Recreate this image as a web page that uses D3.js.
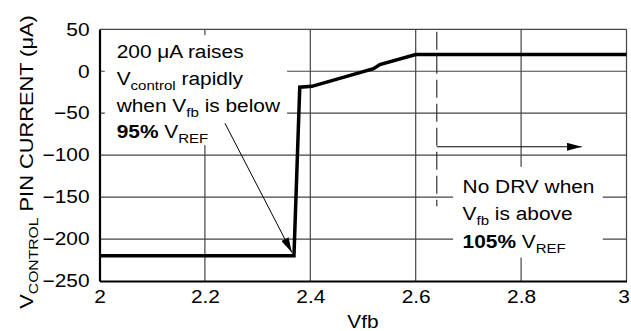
<!DOCTYPE html>
<html>
<head>
<meta charset="utf-8">
<script src="https://cdn.jsdelivr.net/npm/d3@7"></script>
<style>
  body { margin: 0; background: #fff; }
  svg { display: block; font-family: "Liberation Sans", Arial, sans-serif; }
</style>
</head>
<body>
<script>
// curve (Vfb in V, current in uA)
var vfb     = [2, 2.369, 2.380, 2.403, 2.52, 2.532, 2.6, 3];
var current = [-220, -220, -19, -18, 3, 8, 20, 20];

var xTicks = [2, 2.2, 2.4, 2.6, 2.8, 3];
var yTicks = [-250, -200, -150, -100, -50, 0, 50];
var xGrid = [2.2, 2.4, 2.6, 2.8, 3];
var yGrid = [-200, -150, -100, -50, 0, 50];

// 105% Vref marker + arrows (data coords)
var limitV = 2.64;
var limitSpan = [47, -161];
var arrowLow = [[2.238, -62], [2.365, -216]];
var arrowHigh = [[2.64, -90], [2.915, -90]];

// white boxes behind the notes (data coords)
var noteBoxes = [
  {x0: 2.01, x1: 2.356, y0: 43, y1: -88},
  {x0: 2.671, x1: 2.955, y0: -114, y1: -222}
];

var W = 631, H = 331;
var marges = {top: 29.3, right: 4.5, bottom: 50, left: 99.5};
var SX = 1.16; // text in the original is a bit wide
var FS = 18;

var svg = d3.select("body").append("svg")
  .attr("width", W)
  .attr("height", H);

var x = d3.scaleLinear().domain([2, 3]).range([marges.left, W - marges.right]);
var y = d3.scaleLinear().domain([-250, 50]).range([H - marges.bottom, marges.top]);

var defs = svg.append("defs");
defs.append("marker")
  .attr("id", "head")
  .attr("markerUnits", "userSpaceOnUse")
  .attr("viewBox", "0 -4 15 8")
  .attr("refX", 15).attr("refY", 0)
  .attr("markerWidth", 15).attr("markerHeight", 8)
  .attr("orient", "auto")
  .append("path")
  .attr("d", "M0,-4L15,0L0,4Z")
  .attr("fill", "#000");

// grid
svg.append("g").selectAll("line").data(xGrid).enter().append("line")
  .attr("x1", d => x(d)).attr("x2", d => x(d))
  .attr("y1", y(-250)).attr("y2", y(50))
  .attr("stroke", "#444").attr("stroke-width", 1.2);
svg.append("g").selectAll("line").data(yGrid).enter().append("line")
  .attr("x1", x(2)).attr("x2", x(3))
  .attr("y1", d => y(d)).attr("y2", d => y(d))
  .attr("stroke", "#444").attr("stroke-width", 1.2);

svg.append("g").selectAll("rect").data(noteBoxes).enter().append("rect")
  .attr("x", d => x(d.x0)).attr("y", d => y(d.y0))
  .attr("width", d => x(d.x1) - x(d.x0))
  .attr("height", d => y(d.y1) - y(d.y0))
  .attr("fill", "#fff");

// curve
var pts = vfb.map((v, i) => [v, current[i]]);
svg.append("path")
  .datum(pts)
  .attr("d", d3.line().x(d => x(d[0])).y(d => y(d[1])))
  .attr("fill", "none")
  .attr("stroke", "#000")
  .attr("stroke-width", 3.5)
  .attr("stroke-linejoin", "miter");

// dashed limit + arrows
svg.append("line")
  .attr("x1", x(limitV)).attr("x2", x(limitV))
  .attr("y1", y(limitSpan[0])).attr("y2", y(limitSpan[1]))
  .attr("stroke", "#333").attr("stroke-width", 1.2)
  .attr("stroke-dasharray", "18,6");

[arrowLow, arrowHigh].forEach(function(a) {
  svg.append("line")
    .attr("x1", x(a[0][0])).attr("y1", y(a[0][1]))
    .attr("x2", x(a[1][0])).attr("y2", y(a[1][1]))
    .attr("stroke", "#000").attr("stroke-width", 1)
    .attr("marker-end", "url(#head)");
});

// axes
var axeX = svg.append("g")
  .attr("transform", "translate(0," + (H - marges.bottom) + ")")
  .call(d3.axisBottom(x).tickValues(xTicks).tickSize(0).tickPadding(9.5).tickFormat(d => d));
var axeY = svg.append("g")
  .attr("transform", "translate(" + marges.left + ",0)")
  .call(d3.axisLeft(y).tickValues(yTicks).tickSize(0).tickPadding(10 / SX));

[axeX, axeY].forEach(function(a) {
  a.select(".domain").attr("stroke", "#000").attr("stroke-width", 2.2);
  a.selectAll("text")
    .attr("font-size", FS)
    .attr("font-family", "Liberation Sans, Arial, sans-serif")
    .attr("fill", "#000")
    .attr("transform", "scale(" + SX + ",1)");
});
// keep the "3" inside the window
axeX.selectAll(".tick text").filter(d => d === 3).attr("x", -2.5);

// text helper: parts = [text, "sub"/"b"/null]
function ligne(g, px, py, parts, anchor, fs) {
  fs = fs || FS;
  var t = g.append("text")
    .attr("transform", "translate(" + px + "," + py + ") scale(" + SX + ",1)")
    .attr("font-size", fs)
    .attr("text-anchor", anchor || "start")
    .attr("fill", "#000");
  var low = false;
  parts.forEach(function(p) {
    var s = t.append("tspan").text(p[0]);
    if (p[1] === "sub") {
      s.attr("font-size", fs * 0.72).attr("dy", low ? 0 : 5);
      low = true;
    } else {
      if (low) s.attr("dy", -5);
      low = false;
      if (p[1] === "b") s.attr("font-weight", "bold");
    }
  });
  return t;
}

var notes = svg.append("g");
var n1x = x(2.0326), n1y = y(16);
ligne(notes, n1x, n1y, [["200 \u03bcA raises"]]);
ligne(notes, n1x, n1y + 27, [["V"], ["control", "sub"], [" rapidly"]]);
ligne(notes, n1x, n1y + 54, [["when V"], ["fb", "sub"], [" is below"]]);
ligne(notes, n1x, n1y + 80.5, [["95%", "b"], [" V"], ["REF", "sub"]]);

var n2x = x(2.689), n2y = y(-144.8);
ligne(notes, n2x, n2y, [["No DRV when"]]);
ligne(notes, n2x, n2y + 27.5, [["V"], ["fb", "sub"], [" is above"]]);
ligne(notes, n2x, n2y + 55.5, [["105%", "b"], [" V"], ["REF", "sub"]]);

// axis titles
ligne(svg, x(2.5), 328, [["Vfb"]], "middle");
svg.append("g").attr("transform", "translate(33,162) rotate(-90)")
  .call(function(g) {
    ligne(g, 0, 0, [["V"], ["CONTROL", "sub"], [" PIN CURRENT (\u03bcA)"]], "middle", 18.8);
  });
</script>
</body>
</html>
